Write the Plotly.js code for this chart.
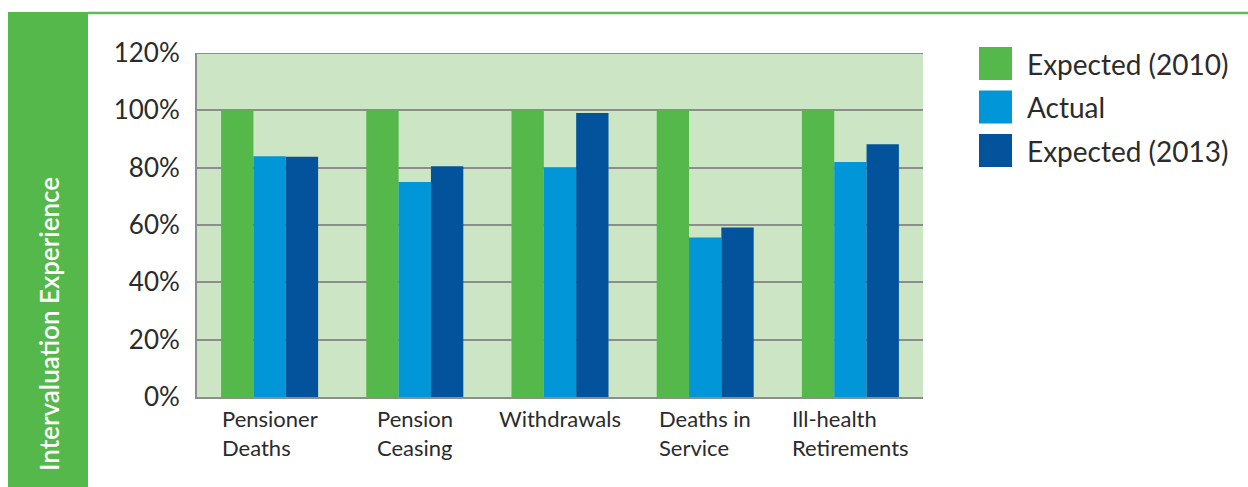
<!DOCTYPE html>
<html>
<head>
<meta charset="utf-8">
<script src="https://cdn.plot.ly/plotly-3.0.1.min.js"></script>
<style>html,body{margin:0;padding:0;background:#fff;}#chart{width:1248px;height:487px;}</style>
</head>
<body>
<div id="chart"></div>
<script>
// Data
const categories = ["Pensioner Deaths", "Pension Ceasing", "Withdrawals", "Deaths in Service", "Ill-health Retirements"];
const categoryLabels = ["Pensioner<br>Deaths", "Pension<br>Ceasing", "Withdrawals", "Deaths in<br>Service", "Ill-health<br>Retirements"];
const seriesNames = ["Expected (2010)", "Actual", "Expected (2013)"];
const expected2010 = [100, 100, 100, 100, 100];
const actual = [84, 75, 80, 55.6, 82];
const expected2013 = [83.8, 80.5, 99.1, 59.1, 88.2];
const seriesColors = ["#55b84a", "#0096d7", "#02539b"];
const yTickVals = [0, 20, 40, 60, 80, 100, 120];
const yTickText = ["0%", "20%", "40%", "60%", "80%", "100%", "120%"];
const yTitle = "Intervaluation Experience";

const seriesValues = [expected2010, actual, expected2013];
const traces = seriesValues.map((vals, i) => ({
  type: "bar",
  name: seriesNames[i],
  x: categories,
  y: vals,
  marker: {color: seriesColors[i], line: {width: 0}},
  showlegend: false,
  hoverinfo: "x+y+name"
}));

const FONT = "Lato, 'Open Sans', sans-serif";
const L = 197, R = 923, T = 53, B = 397, W = 1248, H = 487;
const px = v => (v - L) / (R - L);
const py = v => (B - v) / (B - T);

const shapes = [
  {type: "rect", xref: "paper", yref: "paper", x0: px(8), x1: px(88), y0: py(487), y1: py(12), fillcolor: "#55b84a", line: {width: 0}, layer: "below"},
  {type: "line", xref: "paper", yref: "paper", x0: px(88), x1: px(1248), y0: py(13), y1: py(13), line: {color: "#5cbb52", width: 2.5}},
  {type: "line", xref: "paper", yref: "y", x0: 0, x1: 1, y0: 120, y1: 120, line: {color: "#8d8d8d", width: 2}}
];

const annotations = [];
annotations.push({xref: "paper", yref: "paper", x: px(49), y: py(324), text: yTitle, textangle: -90, showarrow: false,
  font: {family: FONT, size: 26, color: "#ffffff", weight: 600}, xanchor: "center", yanchor: "middle"});
categories.forEach((c, i) => {
  annotations.push({xref: "x", yref: "paper", x: c, y: py(403), text: categoryLabels[i], showarrow: false, align: "left",
    xanchor: "center", yanchor: "top", font: {family: FONT, size: 22, color: "#2b2b2b"}});
});
seriesNames.forEach((n, i) => {
  const top = 47 + i * 43.5;
  shapes.push({type: "rect", xref: "paper", yref: "paper", x0: px(979), x1: px(1012), y0: py(top + 33), y1: py(top), fillcolor: seriesColors[i], line: {width: 0}});
  annotations.push({xref: "paper", yref: "paper", x: px(1025), y: py(top + 17), text: n, showarrow: false, xanchor: "left", yanchor: "middle",
    font: {family: FONT, size: 28, color: "#2b2b2b"}});
});

const layout = {
  width: W, height: H,
  margin: {l: L, r: W - R, t: T, b: H - B, pad: 0},
  paper_bgcolor: "#ffffff",
  plot_bgcolor: "#cce5c4",
  barmode: "group",
  bargap: 0.332,
  bargroupgap: 0,
  showlegend: false,
  xaxis: {type: "category", showticklabels: false, showgrid: false, showline: true, linecolor: "#8d8d8d", linewidth: 2, ticks: "", zeroline: false},
  yaxis: {range: [0, 120], tickvals: yTickVals, ticktext: yTickText, showgrid: true, gridcolor: "#8d8d8d", gridwidth: 2,
    showline: true, linecolor: "#8d8d8d", linewidth: 2, zeroline: false, ticks: "", ticklabelstandoff: 10,
    tickfont: {family: FONT, size: 26, color: "#2b2b2b"}},
  shapes: shapes,
  annotations: annotations,
  font: {family: FONT}
};

Plotly.newPlot("chart", traces, layout, {displayModeBar: false, staticPlot: true});
</script>
</body>
</html>
